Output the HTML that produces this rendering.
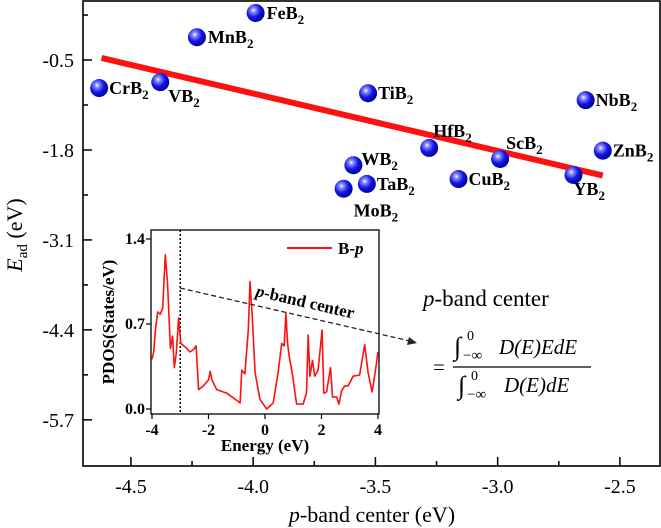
<!DOCTYPE html>
<html><head><meta charset="utf-8">
<style>
html,body{margin:0;padding:0;background:#fff;}
svg{display:block;}
svg text, svg tspan{font-family:"Liberation Serif","Times New Roman",serif;}
</style></head>
<body>
<svg id="chart" width="661" height="528" viewBox="0 0 661 528" xmlns="http://www.w3.org/2000/svg" font-family="Liberation Serif, serif">
<defs>
<radialGradient id="ball" cx="0.38" cy="0.35" r="0.7">
<stop offset="0" stop-color="#ffffff"/>
<stop offset="0.18" stop-color="#8a8cff"/>
<stop offset="0.55" stop-color="#1414e6"/>
<stop offset="1" stop-color="#00008a"/>
</radialGradient>
</defs>
<g id="main"></g>
<g id="inset"></g>
<text x="423" y="306" font-size="23"><tspan font-style="italic">p</tspan>-band center</text>
<g font-size="21" font-style="italic">
<text x="433" y="374" font-style="normal">=</text>
<text x="454" y="355" font-style="normal" font-size="26">∫</text>
<text x="467" y="340" font-style="normal" font-size="14">0</text>
<text x="463" y="360" font-style="normal" font-size="15">−∞</text>
<text x="499" y="354">D(E)EdE</text>
<line x1="453" y1="367" x2="591" y2="367" stroke="#000" stroke-width="1.2"/>
<text x="458" y="394" font-style="normal" font-size="26">∫</text>
<text x="471" y="380" font-style="normal" font-size="14">0</text>
<text x="467" y="399" font-style="normal" font-size="15">−∞</text>
<text x="504" y="392">D(E)dE</text>
</g>
<script>
// main chart data
const names = ["FeB2","MnB2","CrB2","VB2","TiB2","NbB2","HfB2","ScB2","ZnB2","YB2","WB2","TaB2","MoB2","CuB2"];
const bandCenter = [-3.99,-4.23,-4.63,-4.38,-3.53,-2.64,-3.28,-2.99,-2.57,-2.69,-3.59,-3.535,-3.63,-3.16];
const adsEnergy = [0.18,-0.17,-0.905,-0.82,-0.98,-1.08,-1.77,-1.93,-1.81,-2.16,-2.02,-2.29,-2.36,-2.22];
const fitX = [-4.62,-2.57];
const fitY = [-0.47,-2.17];
const xTicks = [-4.5,-4.0,-3.5,-3.0,-2.5];
const yTicks = [-0.5,-1.8,-3.1,-4.4,-5.7];
// inset data
const energy = [-4,-3.94,-3.88,-3.8,-3.71,-3.62,-3.53,-3.45,-3.35,-3.27,-3.21,-3.14,-3.06,-2.98,-2.82,-2.65,-2.53,-2.44,-2.35,-2.18,-2,-1.94,-1.88,-1.71,-1.35,-0.88,-0.82,-0.71,-0.59,-0.53,-0.45,-0.35,-0.18,0.06,0.29,0.47,0.59,0.68,0.74,0.8,0.86,0.98,1.12,1.35,1.47,1.53,1.59,1.68,1.76,1.88,2.02,2.08,2.18,2.32,2.39,2.53,2.62,2.71,2.82,2.94,3.12,3.35,3.53,3.65,3.79,3.88,4];
const pdos = [0.41,0.47,0.65,0.8,0.78,0.83,1.27,1.04,0.5,0.6,0.34,0.46,0.75,0.54,0.51,0.47,0.49,0.52,0.16,0.19,0.24,0.31,0.24,0.16,0.13,0.05,0.32,0.29,0.65,1.05,0.76,0.3,0.08,0,0.05,0.31,0.54,0.52,0.79,0.54,0.43,0.27,0.04,0.04,0.13,0.61,0.27,0.4,0.27,0.32,0.65,0.13,0.14,0.34,0.1,0.1,0.04,0.15,0.19,0.19,0.27,0.28,0.53,0.3,0.14,0.27,0.47];
const insetXTicks = [-4,-2,0,2,4];
const insetYTicks = [0.0,0.7,1.4];

const NS="http://www.w3.org/2000/svg";
function mk(parent,tag,attrs,text){const e=document.createElementNS(NS,tag);for(const k in attrs)e.setAttribute(k,attrs[k]);if(text!==undefined)e.textContent=text;parent.appendChild(e);return e;}

const L=83,R=660,T=1,B=466;
const xMin=-4.696,xMax=-2.336,yMin=-6.367,yMax=0.353;
const X=v=>L+(v-xMin)/(xMax-xMin)*(R-L);
const Y=v=>B-(v-yMin)/(yMax-yMin)*(B-T);
const main=document.getElementById('main');
let e=mk(main,'rect',{x:L,y:T,width:R-L,height:B-T,fill:'none',stroke:'#000','stroke-width':1.6});


xTicks.forEach((t,i)=>{
  let l=mk(main,'line',{x1:X(t),x2:X(t),y1:B,y2:B-9,stroke:'#000','stroke-width':1.5});
  
  
  let m=mk(main,'line',{x1:X(t+0.25),x2:X(t+0.25),y1:B,y2:B-5,stroke:'#000','stroke-width':1.5});
  
  
  let tx=mk(main,'text',{x:X(t),y:B+27,'font-size':20,'text-anchor':'middle'},t.toFixed(1));
  
  
});
yTicks.forEach(t=>{
  let l=mk(main,'line',{x1:L,x2:L+9,y1:Y(t),y2:Y(t),stroke:'#000','stroke-width':1.5});
  
  
  let m=mk(main,'line',{x1:L,x2:L+5,y1:Y(t+0.65),y2:Y(t+0.65),stroke:'#000','stroke-width':1.5});
  
  
  let tx=mk(main,'text',{x:L-9,y:Y(t)+7,'font-size':20,'text-anchor':'end'},t.toFixed(1));
  
  
});
let xt=mk(main,'text',{x:372,y:522,'font-size':22,'text-anchor':'middle'});


mk(xt,'tspan',{'font-style':'italic'},'p');mk(xt,'tspan',{},'-band center (eV)');
let yt=mk(main,'text',{x:0,y:0,'font-size':22,'text-anchor':'middle',transform:'translate(22,235) rotate(-90)'});


mk(yt,'tspan',{'font-style':'italic'},'E');mk(yt,'tspan',{'font-size':15,dy:5},'ad');mk(yt,'tspan',{dy:-5},' (eV)');
let fl=mk(main,'line',{x1:X(fitX[0]),y1:Y(fitY[0]),x2:X(fitX[1]),y2:Y(fitY[1]),stroke:'#ff1010','stroke-width':6});


const labOff={FeB2:[11,6],MnB2:[11,6],CrB2:[10,6],VB2:[8,20],TiB2:[10,6],NbB2:[10,6],HfB2:[4,-11],ScB2:[6,-10],ZnB2:[10,6],YB2:[0,20],WB2:[8,0],TaB2:[10,6],MoB2:[10,28],CuB2:[10,6]};
names.forEach((n,i)=>{
  const cx=X(bandCenter[i]),cy=Y(adsEnergy[i]);
  let c=mk(main,'circle',{cx:cx,cy:cy,r:9,fill:'url(#ball)'});
  
  
  const o=labOff[n];
  let t=mk(main,'text',{x:cx+o[0],y:cy+o[1],'font-size':18,'font-weight':'bold'},n.slice(0,-1));
  
  
  mk(t,'tspan',{'font-size':13,dy:5},'2');
});

const iL=151,iR=379,iT=230,iB=414;
const iX=v=>152+(v+4)/8*(378-152);
const iY=v=>409-v/1.4*(409-239);
const ins=document.getElementById('inset');
let ibg=mk(ins,'rect',{x:iL,y:iT,width:iR-iL,height:iB-iT,fill:'#fff',stroke:'#000','stroke-width':1.3});


insetXTicks.forEach(t=>{
  let l=mk(ins,'line',{x1:iX(t),x2:iX(t),y1:iB,y2:iB+5,stroke:'#000','stroke-width':1.2});
  
  
  let tx=mk(ins,'text',{x:iX(t),y:iB+21,'font-size':16,'font-weight':'bold','text-anchor':'middle'},String(t));
  
  
});
insetYTicks.forEach(t=>{
  let l=mk(ins,'line',{x1:iL,x2:iL-5,y1:iY(t),y2:iY(t),stroke:'#000','stroke-width':1.2});
  
  
  let tx=mk(ins,'text',{x:iL-6,y:iY(t)+5,'font-size':16,'font-weight':'bold','text-anchor':'end'},t.toFixed(1));
  
  
});
let ixt=mk(ins,'text',{x:265,y:451,'font-size':17,'font-weight':'bold','text-anchor':'middle'},'Energy (eV)');


let iyt=mk(ins,'text',{x:0,y:0,'font-size':17,'font-weight':'bold','text-anchor':'middle',transform:'translate(114,322) rotate(-90)'},'PDOS(States/eV)');


let vl=mk(ins,'line',{x1:iX(-3),x2:iX(-3),y1:iT,y2:iB,stroke:'#000','stroke-width':1.5,'stroke-dasharray':'2,2'});


let pd=energy.map((v,i)=>(i?'L':'M')+iX(v).toFixed(1)+','+iY(pdos[i]).toFixed(1)).join('');
let pp=mk(ins,'path',{d:pd,fill:'none',stroke:'#ff1010','stroke-width':1.6,'stroke-linejoin':'round'});


let lg=mk(ins,'line',{x1:287,x2:332,y1:248,y2:248,stroke:'#ff1010','stroke-width':2});


let lt=mk(ins,'text',{x:338,y:254,'font-size':17,'font-weight':'bold'});


mk(lt,'tspan',{},'B-');mk(lt,'tspan',{'font-style':'italic'},'p');
const svg=document.getElementById('chart');
let ar=mk(svg,'line',{x1:180,y1:288,x2:410,y2:341,stroke:'#222','stroke-width':1.3,'stroke-dasharray':'5,3'});


let ah=mk(svg,'path',{d:'M417,343 L407,345 L409,337 Z',fill:'#222'});


let at=mk(svg,'text',{x:0,y:0,'font-size':17,'font-weight':'bold',transform:'translate(255,296) rotate(13)'});


mk(at,'tspan',{'font-style':'italic'},'p');mk(at,'tspan',{},'-band center');
</script>
</svg>
</body></html>
